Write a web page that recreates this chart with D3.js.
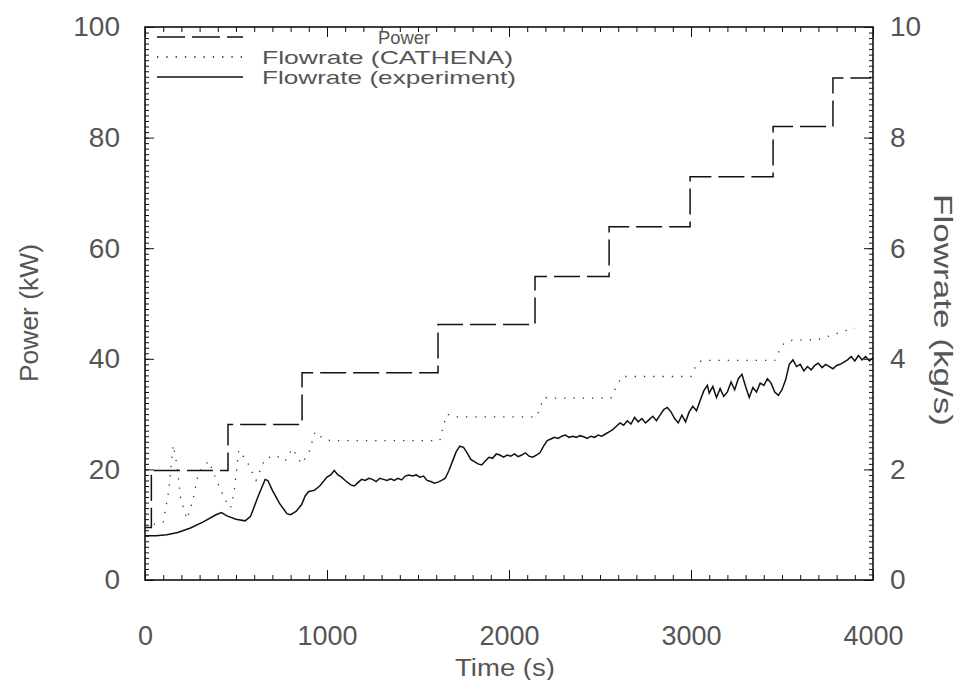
<!DOCTYPE html>
<html>
<head>
<meta charset="utf-8">
<script src="https://cdn.jsdelivr.net/npm/d3@7"></script>
<style>
  body { margin: 0; background: #fff; }
  text { font-family: "Liberation Sans", Arial, sans-serif; fill: #555; }
</style>
</head>
<body>
<div id="chart"></div>
<script>
// power input, step changes (s, kW)
const powerTime = [0, 35, 456, 863, 1610, 2143, 2550, 2995, 3451, 3780, 3990];
const powerKW   = [9.5, 19.8, 28.1, 37.5, 46.2, 54.9, 63.9, 72.9, 82.0, 90.8, 90.8];

// CATHENA predicted flowrate (s, kg/s)
const cathenaTime = [0, 40, 100, 130, 155, 175, 195, 230, 260, 295, 350, 400, 440, 470, 490, 515, 560, 610, 660, 720, 770, 810, 860, 900, 935, 980, 1020,
  1620, 1640, 1660, 1700, 2150, 2170, 2190, 2230, 2560, 2590, 2620, 3000, 3030, 3060, 3460, 3500, 3540, 3700, 3860, 3900];
const cathenaFlow = [0.95, 1.0, 1.05, 1.6, 2.44, 2.1, 1.5, 1.1, 1.4, 1.95, 2.15, 1.75, 1.45, 1.3, 1.6, 2.35, 2.15, 1.8, 2.2, 2.25, 2.15, 2.38, 2.1, 2.3, 2.68, 2.55, 2.52,
  2.52, 2.8, 3.0, 2.95, 2.95, 3.1, 3.3, 3.29, 3.29, 3.5, 3.68, 3.68, 3.9, 3.97, 3.97, 4.25, 4.33, 4.35, 4.52, 4.55];

// measured flowrate (s, kg/s)
const expTime = [0, 60, 120, 180, 250, 320, 390, 420, 450, 500, 550, 580, 620, 660, 675, 700, 740, 780, 800, 830, 860, 880, 900, 930, 960,
  1000, 1020, 1040, 1060, 1080, 1100, 1130, 1150, 1170, 1190, 1210, 1230, 1250, 1270, 1290, 1310, 1330, 1350, 1370, 1390, 1410, 1430, 1450, 1470, 1490,
  1510, 1530, 1550, 1570, 1590, 1610, 1630, 1650, 1670, 1690, 1710, 1730, 1750, 1770, 1790, 1810, 1830, 1850, 1870, 1890, 1910, 1930, 1950, 1970, 1990,
  2010, 2030, 2050, 2070, 2090, 2110, 2130, 2150, 2170, 2190, 2210, 2230, 2250, 2270, 2290, 2310, 2330, 2350, 2370, 2390, 2410, 2430, 2450, 2470, 2490,
  2510, 2530, 2550, 2570, 2590, 2610, 2630, 2650, 2670, 2690, 2710, 2730, 2750, 2770, 2790, 2810, 2830, 2850, 2870, 2890, 2910, 2930, 2950, 2970, 2990,
  3010, 3030, 3050, 3070, 3090, 3100, 3120, 3140, 3160, 3180, 3200, 3220, 3240, 3260, 3280, 3300, 3320, 3340, 3360, 3380, 3400, 3420, 3440, 3460, 3480,
  3500, 3520, 3540, 3560, 3580, 3600, 3620, 3640, 3660, 3680, 3700, 3720, 3740, 3760, 3780, 3800, 3820, 3840, 3860, 3880, 3900, 3920, 3940, 3960, 3980, 4000];
const expFlow = [0.80, 0.80, 0.82, 0.86, 0.94, 1.05, 1.18, 1.22, 1.16, 1.10, 1.07, 1.15, 1.50, 1.82, 1.80, 1.62, 1.38, 1.20, 1.18, 1.24, 1.36, 1.52, 1.60, 1.62, 1.70,
  1.86, 1.90, 1.98, 1.90, 1.86, 1.80, 1.72, 1.70, 1.76, 1.82, 1.80, 1.84, 1.82, 1.78, 1.84, 1.82, 1.80, 1.83, 1.80, 1.84, 1.81, 1.88, 1.90, 1.88, 1.90,
  1.86, 1.88, 1.80, 1.78, 1.75, 1.77, 1.80, 1.84, 1.98, 2.15, 2.32, 2.42, 2.40, 2.30, 2.18, 2.14, 2.10, 2.08, 2.15, 2.22, 2.20, 2.28, 2.26, 2.22, 2.26,
  2.24, 2.28, 2.23, 2.26, 2.30, 2.24, 2.22, 2.26, 2.30, 2.42, 2.52, 2.55, 2.58, 2.56, 2.60, 2.62, 2.58, 2.60, 2.58, 2.61, 2.59, 2.56, 2.60, 2.58, 2.62,
  2.60, 2.64, 2.68, 2.72, 2.78, 2.84, 2.80, 2.88, 2.82, 2.94, 2.86, 2.92, 2.84, 2.90, 2.96, 2.88, 2.98, 3.08, 3.12, 3.04, 2.92, 2.84, 2.98, 2.86, 3.04,
  3.14, 3.06, 3.24, 3.42, 3.52, 3.38, 3.50, 3.30, 3.46, 3.32, 3.40, 3.58, 3.44, 3.64, 3.72, 3.50, 3.30, 3.48, 3.40, 3.56, 3.52, 3.64, 3.56, 3.40, 3.34,
  3.44, 3.62, 3.90, 3.98, 3.86, 3.90, 3.78, 3.86, 3.80, 3.88, 3.92, 3.84, 3.90, 3.86, 3.82, 3.88, 3.90, 3.94, 3.98, 4.04, 3.96, 4.06, 3.98, 4.04, 3.96, 4.02];

const xTicks = [0, 1000, 2000, 3000, 4000];
const leftTicks = [0, 20, 40, 60, 80, 100];
const rightTicks = [0, 2, 4, 6, 8, 10];

const W = 957, H = 680;
const mL = 145, mR = 873, mT = 27, mB = 580;

const svg = d3.select("#chart").append("svg")
  .attr("width", W).attr("height", H);

const x = d3.scaleLinear().domain([0, 4000]).range([mL, mR]);
const yL = d3.scaleLinear().domain([0, 100]).range([mB, mT]);
const yR = d3.scaleLinear().domain([0, 10]).range([mB, mT]);

function style(g) {
  g.select(".domain").remove();
  g.selectAll("line").attr("stroke", "#111").attr("stroke-width", 1);
  g.selectAll("text").style("font-size", "28px").attr("fill", "#555");
}

// minor ticks, all four sides, pointing inward
svg.append("g").attr("transform", `translate(0,${mB})`)
  .call(d3.axisBottom(x).tickValues(d3.range(0, 4001, 100)).tickSize(-5).tickFormat(""))
  .call(style);
svg.append("g").attr("transform", `translate(0,${mT})`)
  .call(d3.axisTop(x).tickValues(d3.range(0, 4001, 100)).tickSize(-5).tickFormat(""))
  .call(style);
svg.append("g").attr("transform", `translate(${mL},0)`)
  .call(d3.axisLeft(yL).tickValues(d3.range(0, 101, 1)).tickSize(-4).tickFormat(""))
  .call(style);
svg.append("g").attr("transform", `translate(${mR},0)`)
  .call(d3.axisRight(yR).tickValues(d3.range(0, 101, 1).map(v => v / 10)).tickSize(-4).tickFormat(""))
  .call(style);

// major ticks with labels
svg.append("g").attr("transform", `translate(0,${mB})`)
  .call(d3.axisBottom(x).tickValues(xTicks).tickSize(-10).tickPadding(46).tickFormat(d3.format("d")))
  .call(style)
  .call(g => g.selectAll("text").style("font-size", "27px"));
svg.append("g").attr("transform", `translate(0,${mT})`)
  .call(d3.axisTop(x).tickValues(xTicks).tickSize(-10).tickFormat(""))
  .call(style);
svg.append("g").attr("transform", `translate(${mL},0)`)
  .call(d3.axisLeft(yL).tickValues(leftTicks).tickSize(-9).tickPadding(25).tickFormat(d3.format("d")))
  .call(style);
svg.append("g").attr("transform", `translate(${mR},0)`)
  .call(d3.axisRight(yR).tickValues(rightTicks).tickSize(-9).tickPadding(17).tickFormat(d3.format("d")))
  .call(style);

// frame
svg.append("rect")
  .attr("x", mL).attr("y", mT)
  .attr("width", mR - mL).attr("height", mB - mT)
  .attr("fill", "none").attr("stroke", "#111").attr("stroke-width", 1.6);

const power = powerTime.map((t, i) => [t, powerKW[i]]);
const cathena = cathenaTime.map((t, i) => [t, cathenaFlow[i]]);
const exper = expTime.map((t, i) => [t, expFlow[i]]);

svg.append("path").datum(power)
  .attr("d", d3.line().x(d => x(d[0])).y(d => yL(d[1])).curve(d3.curveStepAfter))
  .attr("fill", "none").attr("stroke", "#111").attr("stroke-width", 1.5)
  .attr("stroke-dasharray", "26,7");

svg.append("path").datum(cathena)
  .attr("d", d3.line().x(d => x(d[0])).y(d => yR(d[1])))
  .attr("fill", "none").attr("stroke", "#333").attr("stroke-width", 1.3)
  .attr("stroke-dasharray", "1.3,8");

svg.append("path").datum(exper)
  .attr("d", d3.line().x(d => x(d[0])).y(d => yR(d[1])))
  .attr("fill", "none").attr("stroke", "#111").attr("stroke-width", 1.5);

// legend
const legend = [
  { label: "Power", dash: "28,7", y: 37, tx: 378, len: 52 },
  { label: "Flowrate (CATHENA)", dash: "1.3,8", y: 57, tx: 262, len: 251 },
  { label: "Flowrate (experiment)", dash: null, y: 77, tx: 262, len: 254 }
];
legend.forEach(d => {
  svg.append("line")
    .attr("x1", 157).attr("x2", 243).attr("y1", d.y).attr("y2", d.y)
    .attr("stroke", "#111").attr("stroke-width", 1.5)
    .attr("stroke-dasharray", d.dash);
  svg.append("text")
    .attr("x", d.tx).attr("y", d.y + 7)
    .attr("textLength", d.len).attr("lengthAdjust", "spacingAndGlyphs")
    .style("font-size", "19px")
    .text(d.label);
});

// axis titles
svg.append("text")
  .attr("transform", `translate(505,676)`)
  .attr("text-anchor", "middle")
  .attr("textLength", 100).attr("lengthAdjust", "spacingAndGlyphs")
  .style("font-size", "23px")
  .text("Time (s)");
svg.append("text")
  .attr("transform", `translate(38,313) rotate(-90)`)
  .attr("text-anchor", "middle")
  .attr("textLength", 138).attr("lengthAdjust", "spacingAndGlyphs")
  .style("font-size", "25px")
  .text("Power (kW)");
svg.append("text")
  .attr("transform", `translate(934,310) rotate(90)`)
  .attr("text-anchor", "middle")
  .attr("textLength", 232).attr("lengthAdjust", "spacingAndGlyphs")
  .style("font-size", "25px")
  .text("Flowrate (kg/s)");
</script>
</body>
</html>
